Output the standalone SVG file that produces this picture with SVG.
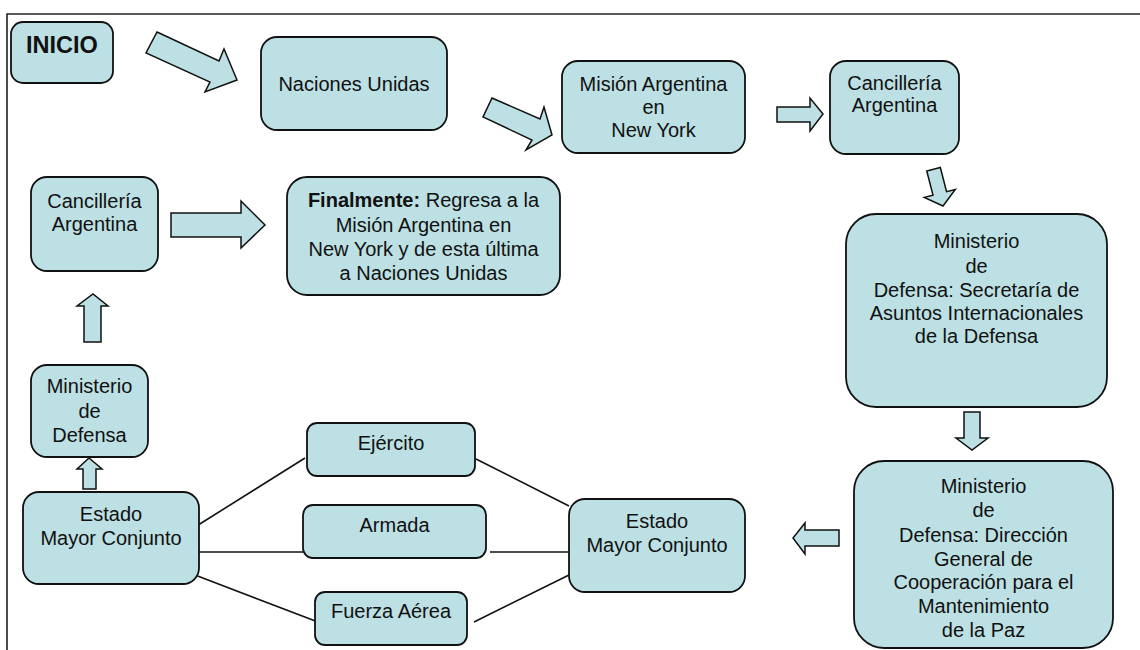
<svg xmlns="http://www.w3.org/2000/svg" width="1140" height="650" viewBox="0 0 1140 650">
<defs>
<style>
.box{fill:#bce0e3;stroke:#111;stroke-width:1.8}
.arr{fill:#bce0e3;stroke:#111;stroke-width:1.5;stroke-linejoin:miter}
.ln{stroke:#111;stroke-width:1.6;fill:none}
.t{font-family:"Liberation Sans",Arial,sans-serif;font-size:20px;fill:#111;text-anchor:middle}
.b{font-weight:bold}
</style>
</defs>
<rect x="0" y="0" width="1140" height="650" fill="#fff"/>
<path d="M7,650 V14 H1140" fill="none" stroke="#222" stroke-width="1.6"/>

<g id="connectors">
<polygon class="arr" points="157,32 219,61 224,49 237,80 205,92 210,82 146,53"/>
<polygon class="arr" points="492,98 540,119 544,107 552,135 526,150 532,140 483,117"/>
<polygon class="arr" points="777,107 810,107 810,98 823,114 810,131 810,122 777,122"/>
<polygon class="arr" transform="translate(943,206) rotate(-14.4)" points="0,0 16,-13 7,-13 7,-38 -7,-38 -7,-13 -16,-13"/>
<polygon class="arr" points="964,412 980,412 980,438 988,438 972,450 956,438 964,438"/>
<polygon class="arr" points="839,530 805,530 805,523 793,538 805,554 805,546 839,546"/>
<polygon class="arr" points="83,489 96,489 96,469 102,469 89,458 77,469 83,469"/>
<polygon class="arr" points="84,342 101,342 101,306 108,306 93,294 77,306 84,306"/>
<polygon class="arr" points="171,213 241,213 241,201 265,225 241,248 241,237 171,237"/>
<line class="ln" x1="195" y1="527" x2="305" y2="458"/>
<line class="ln" x1="195" y1="552" x2="303" y2="552"/>
<line class="ln" x1="195" y1="575" x2="318" y2="622"/>
<line class="ln" x1="476" y1="459" x2="569" y2="506"/>
<line class="ln" x1="490" y1="552" x2="569" y2="552"/>
<line class="ln" x1="474" y1="622" x2="569" y2="575"/>
</g>

<g id="inicio">
<rect class="box" x="11" y="22" width="102" height="61" rx="12"/>
<text class="t b" x="26" y="53" style="text-anchor:start;font-size:23.5px">INICIO</text>
</g>

<g id="naciones-unidas">
<rect class="box" x="261" y="37" width="186" height="93" rx="16"/>
<text class="t" x="354" y="91">Naciones Unidas</text>
</g>

<g id="mision-argentina">
<rect class="box" x="562" y="61" width="183" height="92" rx="16"/>
<text class="t" x="653.5" y="91">Misión Argentina<tspan x="653.5" y="114">en</tspan><tspan x="653.5" y="137">New York</tspan></text>
</g>

<g id="cancilleria-1">
<rect class="box" x="830" y="61" width="129" height="93" rx="16"/>
<text class="t" x="894.5" y="90">Cancillería<tspan x="894.5" y="112">Argentina</tspan></text>
</g>

<g id="ministerio-secretaria">
<rect class="box" x="846" y="214" width="261" height="193" rx="30"/>
<text class="t" x="976.5" y="248">Ministerio<tspan x="976.5" y="273">de</tspan><tspan x="976.5" y="297">Defensa: Secretaría de</tspan><tspan x="976.5" y="320">Asuntos Internacionales</tspan><tspan x="976.5" y="343">de la Defensa</tspan></text>
</g>

<g id="ministerio-direccion">
<rect class="box" x="854" y="461" width="259" height="187" rx="30"/>
<text class="t" x="983.5" y="493">Ministerio<tspan x="983.5" y="517">de</tspan><tspan x="983.5" y="542">Defensa: Dirección</tspan><tspan x="983.5" y="566">General de</tspan><tspan x="983.5" y="589">Cooperación para el</tspan><tspan x="983.5" y="613">Mantenimiento</tspan><tspan x="983.5" y="637">de la Paz</tspan></text>
</g>

<g id="estado-mayor-2">
<rect class="box" x="569" y="499" width="176" height="93" rx="16"/>
<text class="t" x="657" y="528">Estado<tspan x="657" y="552">Mayor Conjunto</tspan></text>
</g>

<g id="ejercito">
<rect class="box" x="307" y="423" width="168" height="53" rx="10"/>
<text class="t" x="391" y="450">Ejército</text>
</g>

<g id="armada">
<rect class="box" x="303" y="505" width="183" height="53" rx="10"/>
<text class="t" x="394.5" y="532">Armada</text>
</g>

<g id="fuerza-aerea">
<rect class="box" x="315" y="592" width="152" height="53" rx="10"/>
<text class="t" x="391" y="618">Fuerza Aérea</text>
</g>

<g id="estado-mayor-1">
<rect class="box" x="23" y="492" width="176" height="92" rx="16"/>
<text class="t" x="111" y="521">Estado<tspan x="111" y="545">Mayor Conjunto</tspan></text>
</g>

<g id="ministerio-defensa">
<rect class="box" x="31" y="365" width="117" height="92" rx="16"/>
<text class="t" x="89.5" y="393">Ministerio<tspan x="89.5" y="418">de</tspan><tspan x="89.5" y="442">Defensa</tspan></text>
</g>

<g id="cancilleria-2">
<rect class="box" x="31" y="177" width="127" height="94" rx="16"/>
<text class="t" x="94.5" y="208">Cancillería<tspan x="94.5" y="231">Argentina</tspan></text>
</g>

<g id="finalmente">
<rect class="box" x="287" y="177" width="273" height="118" rx="20"/>
<text class="t" x="423.5" y="207"><tspan class="b">Finalmente:</tspan> Regresa a la<tspan x="423.5" y="232">Misión Argentina en</tspan><tspan x="423.5" y="256">New York y de esta última</tspan><tspan x="423.5" y="280">a Naciones Unidas</tspan></text>
</g>
</svg>
